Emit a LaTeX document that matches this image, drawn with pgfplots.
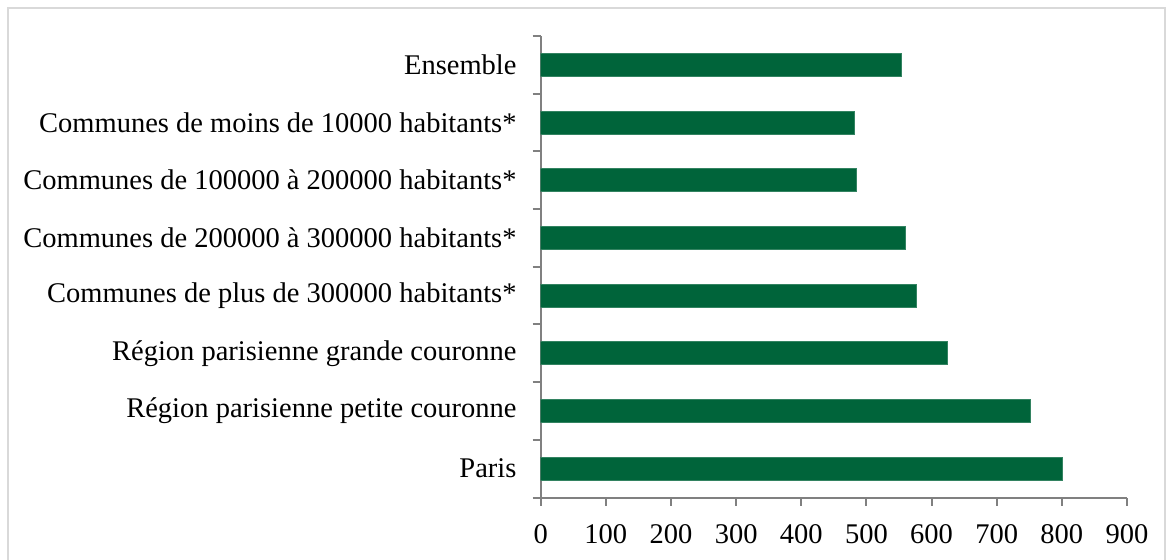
\documentclass[border=0pt]{standalone}
\usepackage{fontspec}
\setmainfont{Liberation Serif}
\usepackage{pgfplots}
\pgfplotsset{compat=1.18}
\definecolor{bargreen}{RGB}{0,100,58}
\definecolor{axisgray}{RGB}{128,128,128}
\definecolor{framegray}{RGB}{217,217,217}

\begin{document}
\begin{tikzpicture}[x=1pt,y=1pt]
\useasboundingbox (0,0) rectangle (1171,-560);
\draw[framegray, line width=2pt] (8,-8) rectangle (1165,-580);
\begin{axis}[
    at={(540.7pt,-497.5pt)}, anchor=south west,
    scale only axis,
    width=586.3pt, height=461.5pt,
    xbar, bar width=23pt,
    xmin=0, xmax=900, ymin=-0.5, ymax=7.5,
    axis x line=bottom, axis y line=left,
    axis line style={-, axisgray, line width=2pt},
    tick align=outside,
    major tick length=8pt,
    tick style={axisgray, line width=2pt},
    xtick={0,100,...,900},
    ytick={-0.5,0.5,...,7.5},
    yticklabels={},
    extra y ticks={0,1,2,3,4,5,6,7},
    extra y tick labels={Paris, Région parisienne petite couronne, Région parisienne grande couronne,
        Communes de plus de 300000 habitants*, Communes de 200000 à 300000 habitants*,
        Communes de 100000 à 200000 habitants*, Communes de moins de 10000 habitants*, Ensemble},
    extra y tick style={tick style={draw=none}},
    ticklabel style={font=\fontsize{28.5}{33}\selectfont, inner sep=0pt},
    /pgf/number format/assume math mode=true,
    yticklabel shift=16pt,
    xticklabel shift=19pt,
]
\addplot[fill=bargreen, draw=bargreen!80!white, line width=0.6pt] coordinates {
    (800,0) (751,1) (624,2) (576,3) (560,4) (484,5) (482,6) (553,7)
};
\end{axis}
\end{tikzpicture}
\end{document}
